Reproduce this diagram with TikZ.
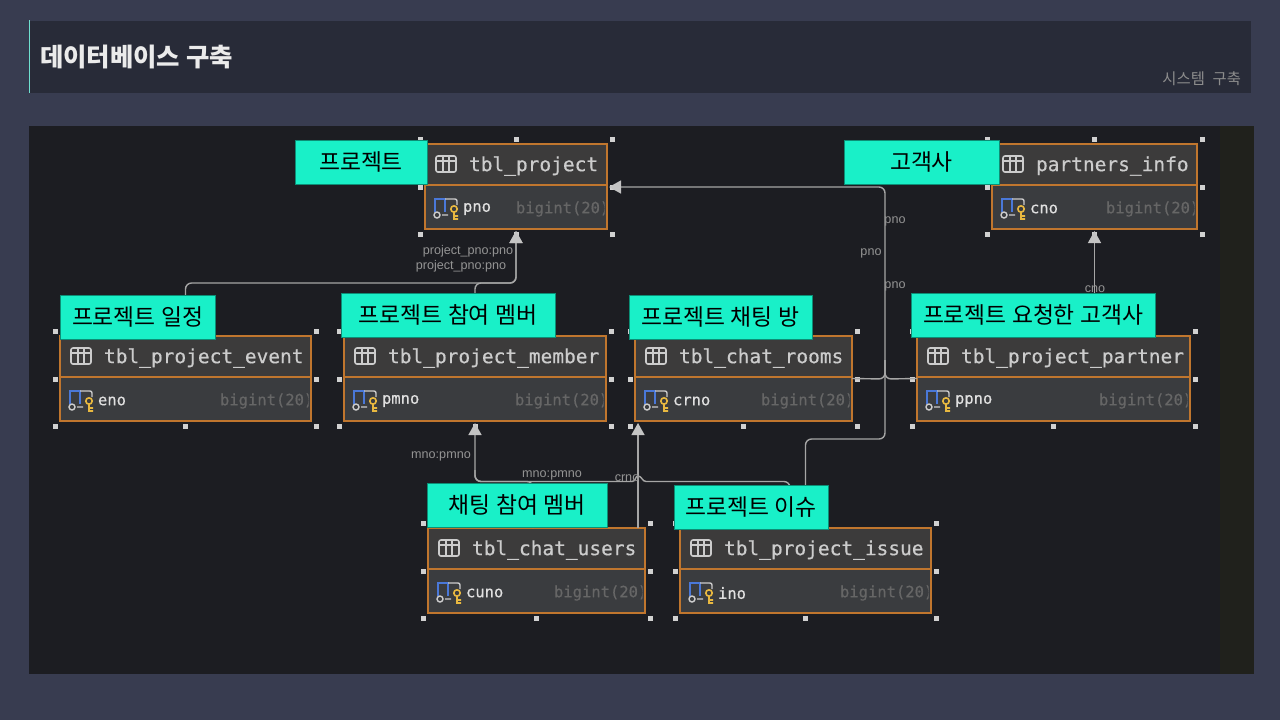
\documentclass[tikz,border=0pt]{standalone}
\usepackage{fontspec}
\setmainfont{Noto Sans CJK KR}
\newfontfamily\tblfont[FakeBold=0.5]{DejaVu Sans Mono}
\newfontfamily\relfont{Liberation Sans}
\usetikzlibrary{arrows.meta,positioning,calc}
\definecolor{slidebg}{HTML}{383C50}
\definecolor{headbg}{HTML}{282B38}
\definecolor{headline}{HTML}{6FE0D0}
\definecolor{canvasbg}{HTML}{1C1D22}
\definecolor{canvasside}{HTML}{20211C}
\definecolor{tblhead}{HTML}{3C3B3B}
\definecolor{tblbody}{HTML}{3A3C3F}
\definecolor{tblframe}{HTML}{C0762E}
\definecolor{mint}{HTML}{19F0C8}
\definecolor{mintline}{HTML}{0C8E76}
\definecolor{relgrey}{HTML}{A6A6A6}
\definecolor{relarrow}{HTML}{C4C4C4}
\definecolor{keyblue}{HTML}{4A78D8}
\definecolor{keygold}{HTML}{E8B840}
\colorlet{tblgrey}{black!20}
\colorlet{handlegrey}{white!82!black}
% one table: name, left, right, top, title, field
\newcommand{\dbtable}[6]{
  \pgfmathsetmacro{\tbL}{#2}\pgfmathsetmacro{\tbR}{#3}\pgfmathsetmacro{\tbT}{#4}
  \pgfmathsetmacro{\tbM}{\tbT+41}\pgfmathsetmacro{\tbB}{\tbT+85}
  \pgfmathsetmacro{\hdL}{\tbL-5}\pgfmathsetmacro{\hdR}{\tbR+5}\pgfmathsetmacro{\hdC}{(\tbL+\tbR)/2}
  \pgfmathsetmacro{\hdT}{\tbT-5}\pgfmathsetmacro{\hdM}{\tbT+43}\pgfmathsetmacro{\hdB}{\tbT+90}
  \pgfmathsetmacro{\tbW}{(\tbR-\tbL)*0.5}
  \foreach \hdx/\hdy [count=\hdi] in {\hdL/\hdT,\hdC/\hdT,\hdR/\hdT,\hdL/\hdM,\hdR/\hdM,\hdL/\hdB,\hdC/\hdB,\hdR/\hdB}
    \node[handle] (#1h\hdi) at (\hdx,\hdy) {};
  \fill[tblbody] (\tbL,\tbM) rectangle (\tbR,\tbB);
  \fill[tblhead] (\tbL,\tbT) rectangle (\tbR,\tbM);
  \node[tbltitle] (#1title) at (\tbL+44,\tbT+22) {#5};
  \node[tblfield] (#1field) at (\tbL+38,\tbT+65) {#6};
  \begin{scope}
    \clip (\tbL,\tbM) rectangle (\tbR-2.5,\tbB);
    \node[tbltype] (#1type) at (\tbR-91,\tbT+65) {bigint(20)};
  \end{scope}
  % table glyph
  \draw[tblgrey,line width=0.8pt,rounded corners=1pt] (\tbL+11,\tbT+12) rectangle (\tbL+31,\tbT+28);
  \draw[tblgrey,line width=0.7pt] (\tbL+11,\tbT+17) -- (\tbL+31,\tbT+17) (\tbL+18,\tbT+12) -- (\tbL+18,\tbT+28) (\tbL+24,\tbT+12) -- (\tbL+24,\tbT+28);
  % key glyph
  \draw[keyblue,line width=1pt] (\tbL+10,\tbT+68) -- (\tbL+10,\tbT+55) -- (\tbL+20,\tbT+55) -- (\tbL+20,\tbT+68);
  \draw[tblgrey,line width=0.7pt,rounded corners=1pt] (\tbL+20,\tbT+55) -- (\tbL+32,\tbT+55) -- (\tbL+32,\tbT+61);
  \draw[tblgrey,line width=0.7pt] (\tbL+12,\tbT+71) circle (3) (\tbL+17,\tbT+71) -- (\tbL+23,\tbT+71);
  \draw[keygold,line width=0.8pt] (\tbL+29,\tbT+65) circle (3.2) (\tbL+29,\tbT+68) -- (\tbL+29,\tbT+75) -- (\tbL+33,\tbT+75) (\tbL+29,\tbT+72) -- (\tbL+33,\tbT+72);
  \node[tblbox,minimum width=\tbW pt,minimum height=42.5pt] (#1) at (\hdC,\tbT+42.5) {};
  \draw[tblframe,line width=1.4pt] (\tbL,\tbM) -- (\tbR,\tbM);
}
\begin{document}
\begin{tikzpicture}[
  x=0.5pt,y=-0.5pt,
  >={Triangle[length=6pt,width=6.5pt,color=relarrow]},
  every node/.style={inner sep=0pt,outer sep=0pt},
  handle/.style={fill=handlegrey,minimum size=2.5pt},
  tblbox/.style={draw=tblframe,line width=1.4pt},
  tbltitle/.style={anchor=west,text=black!20,font=\tblfont\fontsize{9.75}{12}\selectfont},
  tblfield/.style={anchor=west,text=black!12,font=\tblfont\fontsize{7.75}{10}\selectfont},
  tbltype/.style={anchor=west,text=black!60,font=\tblfont\fontsize{7.75}{10}\selectfont},
  mintbox/.style={draw=mintline,fill=mint,line width=0.4pt,text=black,anchor=north west,align=center,minimum height=22pt,font=\fontsize{11.4}{14}\selectfont},
  rel/.style={draw=relgrey,line width=0.7pt,rounded corners=3pt},
  relhead/.style={->,draw=relgrey,line width=0.7pt,rounded corners=3pt},
  rellabel/.style={text=black!42,font=\relfont\fontsize{6.3}{7}\selectfont}
]
\useasboundingbox (0,0) rectangle (1280,720);
\fill[slidebg] (0,0) rectangle (1280,720);
\fill[headbg] (29,21) rectangle (1251,93);
\draw[headline,line width=0.5pt] (29.5,20) -- (29.5,93);
\node[anchor=west,text=black!8,font=\bfseries\fontsize{12.7}{16}\selectfont] (pagetitle) at (40,57) {데이터베이스 구축};
\node[anchor=east,text=black!45,font=\fontsize{7.7}{10}\selectfont] (pagesub) at (1241,79) {시스템\enspace 구축};
\fill[canvasbg] (29,126) rectangle (1254,674);
\fill[canvasside] (1220,126) rectangle (1254,674);

\dbtable{project}{425}{607}{144}{tbl\_project}{pno}
\dbtable{partners}{992}{1197}{144}{partners\_info}{cno}
\dbtable{event}{60}{311}{336}{tbl\_project\_event}{eno}
\dbtable{member}{344}{606}{336}{tbl\_project\_member}{pmno}
\dbtable{rooms}{635}{852}{336}{tbl\_chat\_rooms}{crno}
\dbtable{partner}{917}{1190}{336}{tbl\_project\_partner}{ppno}
\dbtable{users}{428}{645}{528}{tbl\_chat\_users}{cuno}
\dbtable{issue}{680}{931}{528}{tbl\_project\_issue}{ino}

\coordinate (projectside) at (609,187);
\coordinate (roomsin) at (638,423);
\coordinate (usersout) at (638,528);
\coordinate (usersmno) at (533,528);
\coordinate (issuemno) at (790,528);

% relations
\draw[relhead] (event.north) |- (505,283) -| ([yshift=-1pt]project.south);
\draw[relhead] (member.north) |- (505,283) -| ([yshift=-1pt]project.south);
\draw[relhead] (usersmno) |- (475,481.5) -- ([yshift=-1pt]member.south);
\draw[rel] (issuemno) |- (646,481.5);
\draw[draw=relgrey,line width=0.7pt] (646,481.5) .. controls (642,481.5) and (642,476) .. (638,476) .. controls (635,476) and (636,481.5) .. (632,481.5);
\draw[rel] (632,481.5) -- (475,481.5) -- (475,470);
\draw[->,draw=relgrey,line width=0.7pt] (usersout) -- (roomsin);
\draw[relhead] (issue.north) |- (885,439) -- (885,187) -- (projectside);
\draw[rel] (rooms.east) -- (885,379) -- (885,360);
\draw[rel] (partner.west) -- (885,379) -- (885,360);
\draw[->,draw=relgrey,line width=0.7pt] (partner.north -| partners.south) -- ([yshift=-1pt]partners.south);

\node[rellabel] (l1) at (468,251) {project\_pno:pno};
\node[rellabel] (l2) at (461,266) {project\_pno:pno};
\node[rellabel] (l3) at (441,456) {mno:pmno};
\node[rellabel] (l4) at (552,475) {mno:pmno};
\node[rellabel] (l5) at (627,478) {crno};
\node[rellabel] (l6) at (895,221) {pno};
\node[rellabel] (l7) at (871,253) {pno};
\node[rellabel] (l8) at (895,286) {pno};
\node[rellabel] (l9) at (1095,289) {cno};

% captions
\node[mintbox,minimum width=66pt] (c1) at (295,140) {프로젝트};
\node[mintbox,minimum width=77.5pt] (c2) at (844,140) {고객사};
\node[mintbox,minimum width=77.5pt] (c3) at (60,295) {프로젝트 일정};
\node[mintbox,minimum width=107pt] (c4) at (341,293) {프로젝트 참여 멤버};
\node[mintbox,minimum width=91.5pt] (c5) at (629,295) {프로젝트 채팅 방};
\node[mintbox,minimum width=122pt] (c6) at (911,293) {프로젝트 요청한 고객사};
\node[mintbox,minimum width=90pt] (c7) at (427,483) {채팅 참여 멤버};
\node[mintbox,minimum width=77pt] (c8) at (674,485) {프로젝트 이슈};
\end{tikzpicture}
\end{document}
